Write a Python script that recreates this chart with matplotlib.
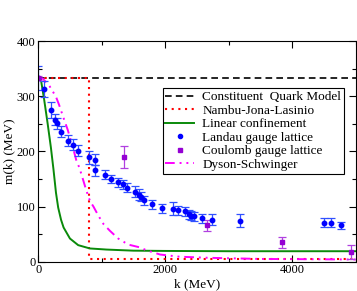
import matplotlib
matplotlib.use("Agg")
import matplotlib.pyplot as plt
from matplotlib.lines import Line2D
from matplotlib.ticker import MultipleLocator

plt.rcParams["font.family"] = ["Liberation Serif", "DejaVu Serif"]

# Constituent quark model (constant mass)
cqm_k = [0, 5000]
cqm_m = [333, 333]

# Nambu-Jona-Lasinio (step at the cutoff)
njl_k = [0, 795, 795, 5000]
njl_m = [333, 333, 4, 4]

# Linear confinement
lin_k = [0, 40, 95, 148, 200, 240, 280, 315, 360, 400, 500, 630, 814, 1077, 1500, 2000, 3000, 5000]
lin_m = [333, 332, 293, 251, 207, 168, 125, 98, 76, 62, 42, 30, 24, 22, 20, 19.5, 19, 19]

# Dyson-Schwinger
ds_k = [0, 70, 170, 280, 330, 410, 465, 545, 600, 650, 690, 740, 790, 820, 870, 945,
        1030, 1130, 1260, 1420, 1600, 1700, 1920, 2230, 2700, 3500, 5000]
ds_m = [333, 332, 320, 299, 284, 257, 239, 208, 184, 170, 155, 136, 118, 109, 100, 84,
        68, 56, 42, 31, 26, 21, 13, 9, 7, 5, 4]

# Landau gauge lattice
landau_k = [0, 95, 205, 263, 290, 357, 470, 551, 625, 796, 888, 888, 1058, 1140, 1260,
            1334, 1402, 1523, 1590, 1612, 1667, 1786, 1943, 2126, 2196, 2311, 2374, 2405,
            2457, 2573, 2731, 3177, 4500, 4610, 4768]
landau_m = [333, 313, 275, 257, 251, 236, 219, 212, 201, 189, 185, 166, 158, 150, 144,
            140, 134, 127, 121, 118, 111, 104, 97, 96, 93, 91, 86, 83, 82, 79, 76, 74,
            71, 71, 66]
landau_err = [22, 14, 15, 10, 10, 10, 10, 10, 10, 12, 10, 10, 8, 8, 8, 8, 8, 10, 10, 8,
              8, 8, 8, 12, 8, 8, 8, 8, 8, 8, 10, 12, 8, 8, 6]

# Coulomb gauge lattice
coul_k = [0, 1350, 2652, 3843, 4925]
coul_m = [333, 189, 66, 35, 17]
coul_err = [4, 20, 10, 10, 13]

blue = "#0000ff"
violet = "#9400d3"
magenta = "#ff00ff"
red = "#ff0000"
green = "#0a8a0a"

fig = plt.figure(figsize=(3.57, 2.91), dpi=100)
ax = fig.add_axes([0.107, 0.1007, 0.889, 0.7583])

ax.plot(cqm_k, cqm_m, color="black", lw=1.2, ls=(0, (4, 2.5)))
ax.plot(njl_k, njl_m, color=red, lw=1.5, ls=(0, (1, 2.2)))
ax.plot(lin_k, lin_m, color=green, lw=1.4)
ax.plot(ds_k, ds_m, color=magenta, lw=1.4, ls=(0, (5, 2.5, 1, 2.5, 1, 2.5)))

ax.errorbar(landau_k, landau_m, yerr=landau_err, fmt="o", color=blue, ms=3.2,
            elinewidth=0.9, capsize=3, capthick=0.9, ecolor="#3050ff")
ax.errorbar(coul_k, coul_m, yerr=coul_err, fmt="s", color=violet, ms=3.2,
            elinewidth=0.9, capsize=3, capthick=0.9, ecolor="#b040e0")

ax.set_xlim(0, 5000)
ax.set_ylim(0, 400)
ax.xaxis.set_major_locator(MultipleLocator(2000))
ax.xaxis.set_minor_locator(MultipleLocator(1000))
ax.yaxis.set_major_locator(MultipleLocator(100))
ax.yaxis.set_minor_locator(MultipleLocator(50))
ax.tick_params(which="both", direction="in", top=True, right=True, labelsize=9, pad=2)
ax.tick_params(which="major", length=5, width=0.8)
ax.tick_params(which="minor", length=3, width=0.8)
ax.set_xlabel("k (MeV)", fontsize=9.5, labelpad=1)
ax.set_ylabel("m(k) (MeV)", fontsize=9.5, labelpad=1)

handles = [
    Line2D([], [], color="black", lw=1.2, ls=(0, (4, 2.5))),
    Line2D([], [], color=red, lw=1.5, ls=(0, (1, 2.2))),
    Line2D([], [], color=green, lw=1.4),
    Line2D([], [], color=blue, marker="o", ms=3, ls="none"),
    Line2D([], [], color=violet, marker="s", ms=3, ls="none"),
    Line2D([], [], color=magenta, lw=1.4, ls=(0, (5, 2.5, 1, 2.5, 1, 2.5))),
]
labels = ["Constituent  Quark Model", "Nambu-Jona-Lasinio", "Linear confinement",
          "Landau gauge lattice", "Coulomb gauge lattice", "Dyson-Schwinger"]
leg = ax.legend(handles, labels, loc="upper right", bbox_to_anchor=(0.963, 0.786),
                borderaxespad=0, fontsize=9.5, fancybox=False, framealpha=1,
                edgecolor="black", handlelength=2.2, handletextpad=0.6,
                labelspacing=0.1, borderpad=0.2, numpoints=1)
leg.get_frame().set_linewidth(0.8)

fig.savefig("out.png", dpi=100)
